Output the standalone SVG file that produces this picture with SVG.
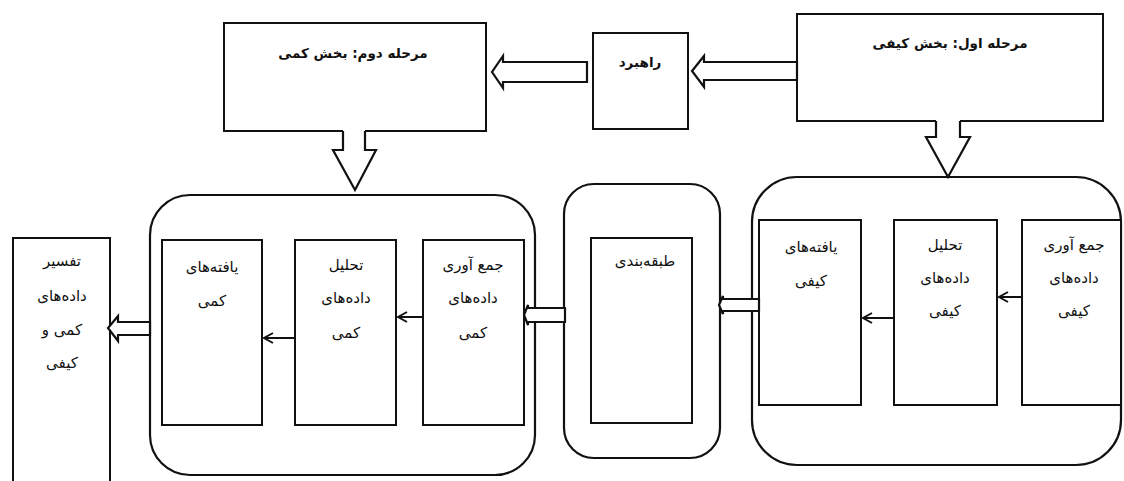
<svg xmlns="http://www.w3.org/2000/svg" width="1124" height="481" viewBox="0 0 1124 481">
<defs>
<style>
.box{fill:#fff;stroke:#111;stroke-width:2}
.grp{fill:#fff;stroke:#111;stroke-width:2.2}
.blk{fill:#fff;stroke:#111;stroke-width:2.2;stroke-linejoin:miter}
.ln{fill:none;stroke:#111;stroke-width:2}
.t{font-family:"DejaVu Sans",sans-serif;font-size:15px;fill:#111;text-anchor:middle;direction:rtl}
.h{font-family:"DejaVu Sans",sans-serif;font-size:13.5px;font-weight:bold;fill:#111;text-anchor:middle;direction:rtl}
</style>
<marker id="ah" viewBox="0 0 12 12" refX="10" refY="6" markerWidth="12" markerHeight="12" markerUnits="userSpaceOnUse" orient="auto">
<path d="M1,1 L10,6 L1,11" fill="none" stroke="#111" stroke-width="2"/>
</marker>
</defs>

<g id="phase1">
<rect class="box" x="797" y="14" width="306" height="107"/>
<text class="h" x="950" y="48">مرحله اول: بخش کیفی</text>
</g>

<g id="strategy">
<rect class="box" x="593" y="33" width="95" height="96"/>
<text class="h" x="640" y="67">راهبرد</text>
</g>

<g id="phase2">
<rect class="box" x="224" y="23" width="262" height="108"/>
<text class="h" x="353" y="58">مرحله دوم: بخش کمی</text>
</g>

<g id="qual-group">
<rect class="grp" x="752" y="177" width="369" height="288" rx="45"/>
</g>
<g id="qual-collect">
<rect class="box" x="1022" y="220" width="99" height="185"/>
<text class="t" x="1074" y="250">جمع آوری</text>
<text class="t" x="1074" y="283">داده‌های</text>
<text class="t" x="1074" y="316">کیفی</text>
</g>
<g id="qual-analysis">
<rect class="box" x="894" y="220" width="103" height="185"/>
<text class="t" x="945" y="250">تحلیل</text>
<text class="t" x="945" y="283">داده‌های</text>
<text class="t" x="945" y="316">کیفی</text>
</g>
<g id="qual-findings">
<rect class="box" x="759" y="220" width="102" height="185"/>
<text class="t" x="811" y="252">یافته‌های</text>
<text class="t" x="811" y="286">کیفی</text>
</g>

<g id="mid-group">
<rect class="grp" x="564" y="184" width="156" height="274" rx="30"/>
</g>
<g id="classification">
<rect class="box" x="591" y="238" width="101" height="185"/>
<text class="t" x="645" y="266">طبقه‌بندی</text>
</g>

<g id="quant-group">
<rect class="grp" x="150" y="195" width="385" height="280" rx="40"/>
</g>
<g id="quant-collect">
<rect class="box" x="423" y="240" width="101" height="185"/>
<text class="t" x="473" y="270">جمع آوری</text>
<text class="t" x="473" y="303">داده‌های</text>
<text class="t" x="473" y="338">کمی</text>
</g>
<g id="quant-analysis">
<rect class="box" x="295" y="240" width="101" height="185"/>
<text class="t" x="346" y="270">تحلیل</text>
<text class="t" x="346" y="303">داده‌های</text>
<text class="t" x="346" y="338">کمی</text>
</g>
<g id="quant-findings">
<rect class="box" x="162" y="240" width="100" height="185"/>
<text class="t" x="212" y="272">یافته‌های</text>
<text class="t" x="212" y="306">کمی</text>
</g>

<g id="interpretation">
<rect class="box" x="13" y="238" width="97" height="260"/>
<text class="t" x="62" y="266">تفسیر</text>
<text class="t" x="62" y="301">داده‌های</text>
<text class="t" x="62" y="335">کمی و</text>
<text class="t" x="62" y="368">کیفی</text>
</g>

<g id="connectors">
<polygon points="936,118 936,137 926,137 948,177 970,137 960,137 960,118" fill="#fff" stroke="none"/>
<polyline class="blk" fill="none" points="936,121 936,137 926,137 948,177 970,137 960,137 960,121"/>
<polygon class="blk" points="797,62 704,62 704,56 692,71 704,87 704,80 797,80"/>
<polygon class="blk" points="587,62 503,62 503,56 492,72 503,88 503,82 587,82"/>
<polygon points="343,128 343,150 333,150 355,190 376,150 365,150 365,128" fill="#fff" stroke="none"/>
<polyline class="blk" fill="none" points="343,131 343,150 333,150 355,190 376,150 365,150 365,131"/>
<polygon class="blk" points="759,299 723,299 723,296 719,305 723,314 723,311 759,311"/>
<polygon class="blk" points="565,308 528,308 528,305 524,315 528,325 528,322 565,322"/>
<polygon class="blk" points="150,322 118,322 118,316 108,328 118,341 118,335 150,335"/>
<line class="ln" x1="1022" y1="297" x2="999" y2="297" marker-end="url(#ah)"/>
<line class="ln" x1="894" y1="318" x2="863" y2="318" marker-end="url(#ah)"/>
<line class="ln" x1="423" y1="317" x2="398" y2="317" marker-end="url(#ah)"/>
<line class="ln" x1="295" y1="338" x2="264" y2="338" marker-end="url(#ah)"/>
</g>
</svg>
